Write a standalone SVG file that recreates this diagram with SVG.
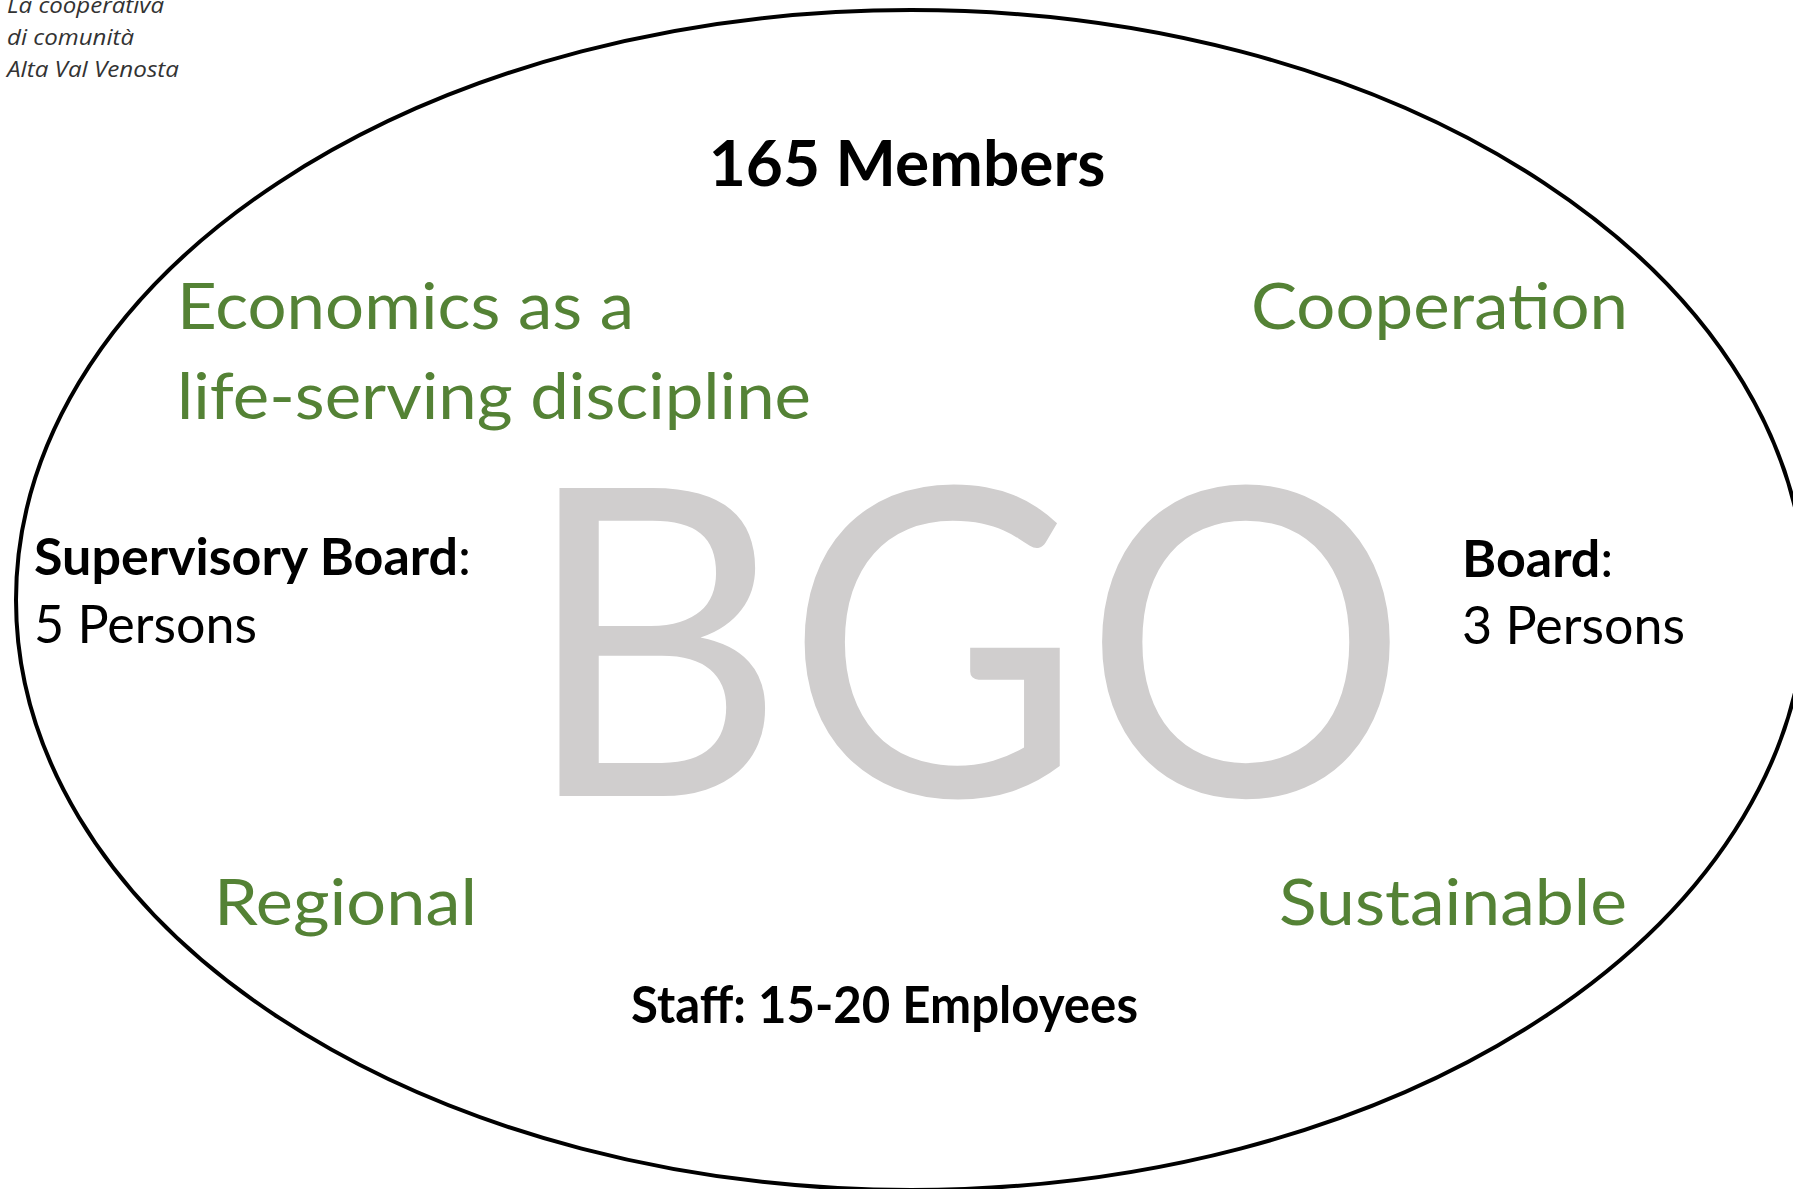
<svg xmlns="http://www.w3.org/2000/svg" width="1793" height="1189" viewBox="0 0 1793 1189">
<style>
.bg{fill:#ffffff}
.outline{fill:none;stroke:#000000;stroke-width:4}
.cap{font-family:"Open Sans","Noto Sans",sans-serif;font-style:italic;font-size:22px;fill:#333333}
.green{font-family:Lato,"Noto Sans",sans-serif;font-size:64px;fill:#548235}
.head{font-family:Lato,"Noto Sans",sans-serif;font-size:64px;font-weight:bold;fill:#000000}
.side{font-family:Lato,"Noto Sans",sans-serif;font-size:52px;fill:#000000}
.b{font-weight:bold}
.staff{font-family:Lato,"Noto Sans",sans-serif;font-size:51px;font-weight:bold;fill:#000000}
.big{font-family:Lato,"Noto Sans",sans-serif;font-size:430px;fill:#D0CECE}
</style>
<rect class="bg" x="0" y="0" width="1793" height="1189"/>
<g id="caption">
<text class="cap" x="7" y="13" textLength="157" lengthAdjust="spacingAndGlyphs">La cooperativa</text>
<text class="cap" x="7" y="45" textLength="127" lengthAdjust="spacingAndGlyphs">di comunità</text>
<text class="cap" x="7" y="77" textLength="172" lengthAdjust="spacingAndGlyphs">Alta Val Venosta</text>
</g>
<g id="connectors"></g>
<g id="organisation">
<ellipse class="outline" cx="911" cy="600" rx="895" ry="590"/>
</g>
<g id="bgo">
<text class="big" transform="translate(975,0) scale(0.947,1)" x="-10" y="796" text-anchor="middle">BGO</text>
</g>
<g id="members">
<text class="head" x="907" y="186" text-anchor="middle">165 Members</text>
</g>
<g id="economics">
<text class="green" x="177" y="329" textLength="457" lengthAdjust="spacingAndGlyphs">Economics as a</text>
<text class="green" x="177" y="419" textLength="634" lengthAdjust="spacingAndGlyphs">life-serving discipline</text>
</g>
<g id="cooperation">
<text class="green" x="1251" y="329" textLength="377" lengthAdjust="spacingAndGlyphs">Cooperation</text>
</g>
<g id="supervisory-board">
<text class="side" x="34" y="575"><tspan class="b">Supervisory Board</tspan>:</text>
<text class="side" x="34" y="643">5 Persons</text>
</g>
<g id="board">
<text class="side" x="1462" y="577"><tspan class="b">Board</tspan>:</text>
<text class="side" x="1462" y="644">3 Persons</text>
</g>
<g id="regional">
<text class="green" x="214" y="925" textLength="263" lengthAdjust="spacingAndGlyphs">Regional</text>
</g>
<g id="sustainable">
<text class="green" x="1279" y="925" textLength="348" lengthAdjust="spacingAndGlyphs">Sustainable</text>
</g>
<g id="staff">
<text class="staff" x="631" y="1023" textLength="507" lengthAdjust="spacingAndGlyphs">Staff: 15-20 Employees</text>
</g>
</svg>
